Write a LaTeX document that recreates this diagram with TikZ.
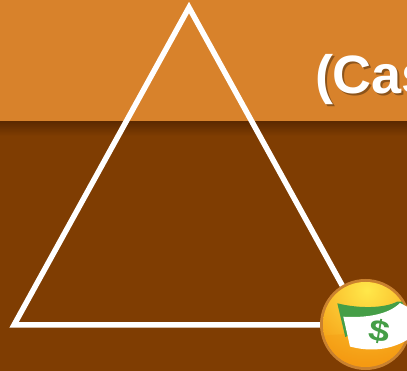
\documentclass[tikz,border=0pt]{standalone}
\usepackage{fontspec}
\setmainfont{Liberation Sans}
\definecolor{bandtop}{HTML}{D8822B}
\definecolor{bandlow}{HTML}{7F3D02}
\definecolor{bandshade}{HTML}{5E2A00}
\definecolor{billgreen}{HTML}{459E47}
\definecolor{ringorange}{HTML}{C9812F}
\definecolor{ballyellow}{HTML}{FFE84A}
\definecolor{ballorange}{HTML}{F59A12}
\tikzset{
  triline/.style={draw=white,line width=5.5pt,miter limit=10,line join=miter},
  headtext/.style={font=\bfseries\fontsize{54}{54}\selectfont,anchor=base west,inner sep=0pt,outer sep=0pt},
  moneytext/.style={font=\bfseries\fontsize{30}{30}\selectfont,inner sep=0pt,outer sep=0pt,rotate=-10,xscale=1.25}
}
\begin{document}
\begin{tikzpicture}[x=1pt,y=-1pt]
\useasboundingbox (0,0) rectangle (407,371);
\clip (0,0) rectangle (407,371);
\fill[bandlow] (0,122) rectangle (407,371);
\fill[bandtop] (0,0) rectangle (407,122);
\shade[top color=bandshade,bottom color=bandlow] (0,122) rectangle (407,136);
\node[headtext,text=black!70!bandtop,opacity=.5] (headshadow) at (317,96) {(Cas};
\node[headtext,text=white] (head) at (315,94) {(Cas};
\draw[triline] (189,7.5) -- (14,325) -- (364,325) -- cycle;
% coin
\fill[ringorange] (365.5,324.5) circle (45.5);
\begin{scope}
\clip (365.5,324.5) circle (42.5);
\fill[ballorange] (320,280) rectangle (411,371);
\shade[inner color=ballyellow,outer color=ballorange] (367,290) circle (75);
\fill[ballorange,opacity=.35] (320,336) .. controls (345,333) and (385,333) .. (411,336) -- (411,371) -- (320,371) -- cycle;
\end{scope}
% banknote
\fill[billgreen] (337.3,303.3) .. controls (360,309) and (385,308) .. (397,301.7) -- (402,301.7)
  -- (404,306) -- (404,312) -- (345.3,337) -- cycle;
\fill[white] (343.3,316.7) .. controls (365,318) and (388,315) .. (400,303)
  -- (407,306.7) -- (407,340) .. controls (390,350) and (370,352) .. (350,346.5) -- cycle;
\node[moneytext,text=billgreen] (money) at (380,331.7) {\$};
\end{tikzpicture}
\end{document}
